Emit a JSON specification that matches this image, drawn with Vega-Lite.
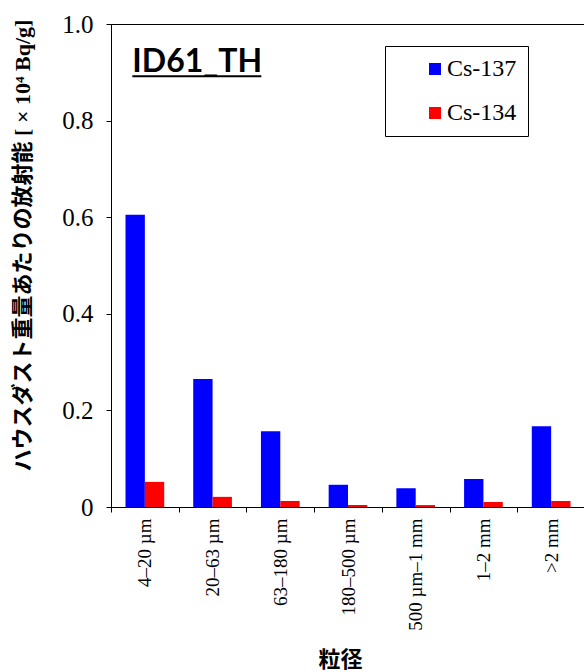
{
  "$schema": "https://vega.github.io/schema/vega-lite/v6.json",
  "width": 474,
  "height": 483,
  "autosize": {"type": "none"},
  "padding": {"left": 111, "top": 24, "right": 0, "bottom": 164},
  "config": {
    "view": {"stroke": "black", "strokeWidth": 1},
    "font": "'Liberation Serif', 'Times New Roman', serif"
  },
  "data": {
    "values": [
      {"size": "4–20 µm", "nuclide": "Cs-137", "activity": 0.605},
      {"size": "4–20 µm", "nuclide": "Cs-134", "activity": 0.052},
      {"size": "20–63 µm", "nuclide": "Cs-137", "activity": 0.265},
      {"size": "20–63 µm", "nuclide": "Cs-134", "activity": 0.021},
      {"size": "63–180 µm", "nuclide": "Cs-137", "activity": 0.157},
      {"size": "63–180 µm", "nuclide": "Cs-134", "activity": 0.0125},
      {"size": "180–500 µm", "nuclide": "Cs-137", "activity": 0.046},
      {"size": "180–500 µm", "nuclide": "Cs-134", "activity": 0.004},
      {"size": "500 µm–1 mm", "nuclide": "Cs-137", "activity": 0.039},
      {"size": "500 µm–1 mm", "nuclide": "Cs-134", "activity": 0.004},
      {"size": "1–2 mm", "nuclide": "Cs-137", "activity": 0.058},
      {"size": "1–2 mm", "nuclide": "Cs-134", "activity": 0.0105},
      {"size": ">2 mm", "nuclide": "Cs-137", "activity": 0.167},
      {"size": ">2 mm", "nuclide": "Cs-134", "activity": 0.0125}
    ]
  },
  "layer": [
    {
      "mark": {"type": "bar"},
      "encoding": {
        "x": {
          "field": "size",
          "type": "nominal",
          "sort": null,
          "scale": {
            "domain": ["4–20 µm", "20–63 µm", "63–180 µm", "180–500 µm", "500 µm–1 mm", "1–2 mm", ">2 mm"],
            "paddingInner": 0,
            "paddingOuter": 0
          },
          "axis": {
            "title": "粒径",
            "titleFont": "'Noto Sans CJK JP'",
            "titleFontWeight": "bold",
            "titleFontSize": 22,
            "titleColor": "black",
            "titleX": 229,
            "titleY": 152,
            "titleBaseline": "middle",
            "labelAngle": 270,
            "labelFont": "'Liberation Serif', 'Times New Roman', serif",
            "labelFontSize": 19,
            "labelColor": "black",
            "labelPadding": 6,
            "tickSize": 5,
            "tickBand": "extent",
            "tickColor": "black",
            "domainColor": "black",
            "grid": false
          }
        },
        "xOffset": {
          "field": "nuclide",
          "type": "nominal",
          "sort": ["Cs-137", "Cs-134"],
          "scale": {"paddingInner": 0, "paddingOuter": 0.75}
        },
        "y": {
          "field": "activity",
          "type": "quantitative",
          "scale": {"domain": [0, 1]},
          "axis": {
            "title": "ハウスダスト重量あたりの放射能 [ × 10⁴ Bq/g]",
            "titleFont": "'Liberation Serif', 'Noto Sans CJK JP'",
            "titleFontWeight": "bold",
            "titleFontSize": 22,
            "titleColor": "black",
            "titleX": -89,
            "titleY": 221,
            "titleBaseline": "middle",
            "titleAlign": "center",
            "values": [0, 0.2, 0.4, 0.6, 0.8, 1],
            "labelExpr": "datum.value == 0 ? '0' : format(datum.value, '.1f')",
            "labelFont": "'Liberation Serif', 'Times New Roman', serif",
            "labelFontSize": 25,
            "labelColor": "black",
            "labelPadding": 13,
            "tickSize": 5,
            "tickColor": "black",
            "domainColor": "black",
            "grid": false
          }
        },
        "color": {
          "field": "nuclide",
          "type": "nominal",
          "scale": {"domain": ["Cs-137", "Cs-134"], "range": ["#0000ff", "#ff0000"]},
          "legend": {
            "orient": "none",
            "legendX": 274,
            "legendY": 22,
            "title": null,
            "strokeColor": "black",
            "fillColor": "white",
            "padding": 11,
            "symbolType": "square",
            "symbolSize": 144,
            "symbolStrokeWidth": 0,
            "symbolOffset": 27,
            "labelOffset": 0,
            "labelFont": "'Liberation Serif', 'Times New Roman', serif",
            "labelFontSize": 24,
            "labelColor": "black",
            "rowPadding": 20,
            "labelExpr": "datum.label + '\u00a0\u00a0\u00a0\u00a0\u00a0\u00a0\u00a0\u00a0\u00a0\u00a0'"
          }
        }
      }
    },
    {
      "data": {"values": [{"name": "ID61_TH"}]},
      "mark": {"type": "text", "font": "Lato", "fontWeight": "bold", "fontSize": 32, "align": "left", "baseline": "alphabetic", "color": "black"},
      "encoding": {
        "x": {"datum": "4–20 µm", "type": "nominal", "bandPosition": 0.315},
        "y": {"datum": 0.9, "type": "quantitative"},
        "text": {"field": "name"}
      }
    },
    {
      "data": {"values": [{"name": "ID61_TH"}]},
      "mark": {"type": "rule", "strokeWidth": 2, "color": "black"},
      "encoding": {
        "x": {"datum": "4–20 µm", "type": "nominal", "bandPosition": 0.315},
        "x2": {"datum": "63–180 µm", "bandPosition": 0.22},
        "y": {"datum": 0.892, "type": "quantitative"}
      }
    }
  ]
}
